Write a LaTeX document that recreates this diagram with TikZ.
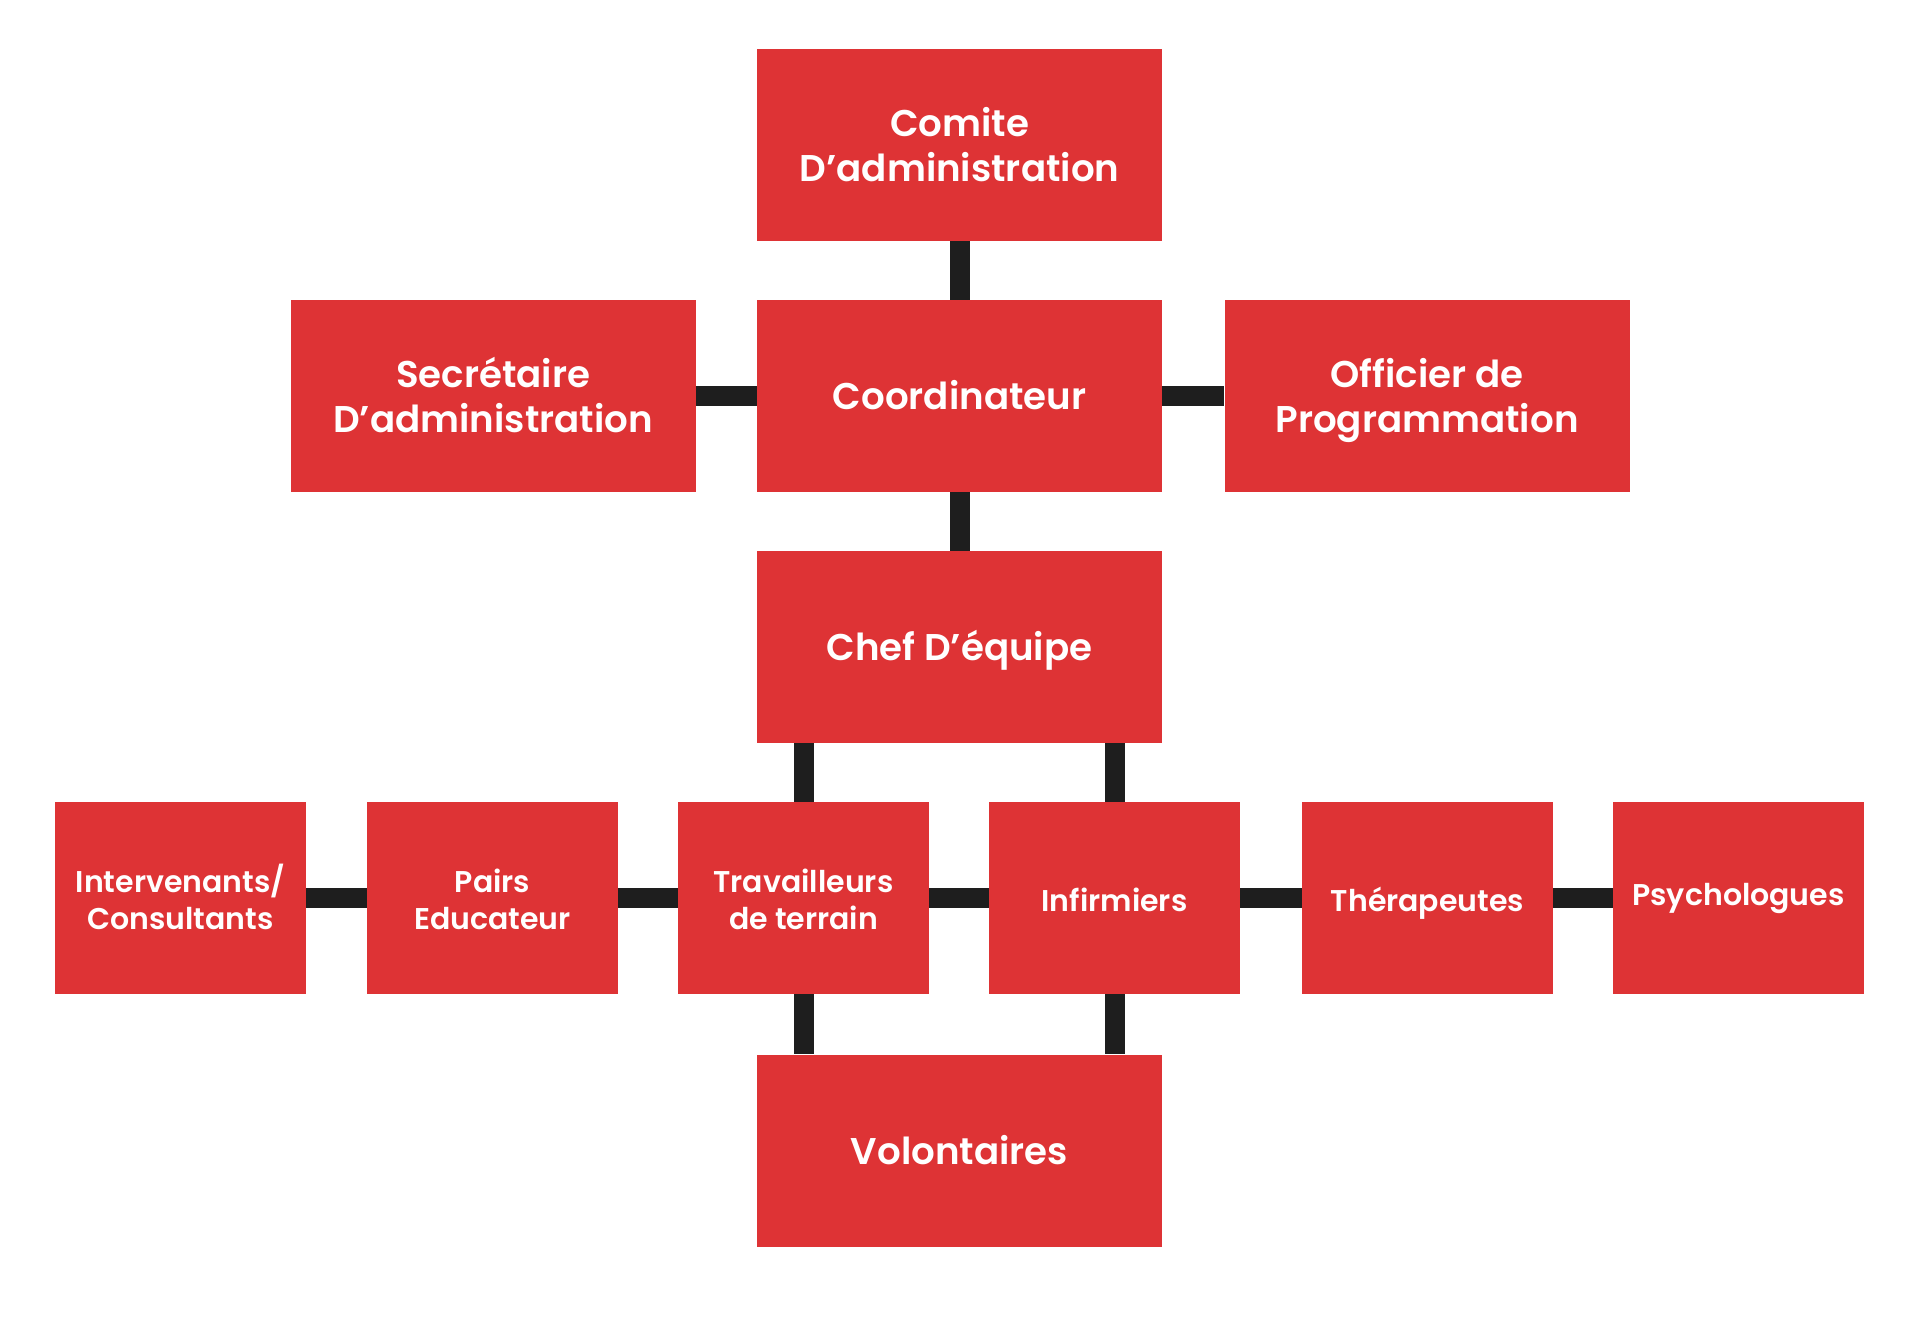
\documentclass[tikz,border=0pt]{standalone}
\usepackage{fontspec}
\setmainfont{Poppins}
\newfontfamily\topfont{Poppins SemiBold}
\newfontfamily\rowfont{Poppins SemiBold}
\newcommand\topline[1]{\rule[-0.13em]{0pt}{1.0em}\smash{#1}}
\newcommand\rowline[1]{\rule[-0.08em]{0pt}{1.05em}\smash{#1}}
\definecolor{boxred}{RGB}{222,51,53}
\definecolor{connblack}{RGB}{30,30,30}
\begin{document}
\begin{tikzpicture}[x=0.5pt,y=-0.5pt,
  bigbox/.style={fill=boxred, draw=none, inner sep=0pt, minimum width=202.5pt, minimum height=96pt,
    text=white, align=center, font=\topfont\fontsize{18.6}{22.5}\selectfont},
  rowbox/.style={fill=boxred, draw=none, inner sep=0pt, minimum width=125.5pt, minimum height=96pt,
    text=white, align=center, font=\rowfont\fontsize{15}{18.5}\selectfont},
  conn/.style={draw=connblack, line width=10pt}]
\useasboundingbox (0,0) rectangle (1920,1328);
\fill[white] (0,0) rectangle (1920,1328);
\node[bigbox] (comite) at (959.5,145) {\topline{Comite}\\\topline{D’administration}};
\node[bigbox] (coord) at (959.5,396) {\topline{Coordinateur}};
\node[bigbox] (sec) at (493,396) {\topline{Secrétaire}\\\topline{D’administration}};
\node[bigbox] (off) at (1427,396) {\topline{Officier de}\\\topline{Programmation}};
\node[bigbox] (chef) at (959.5,647) {\topline{Chef D’équipe}};
\node[rowbox] (inter) at (180.5,898) {\rowline{Intervenants/}\\\rowline{Consultants}};
\node[rowbox] (pairs) at (492.5,898) {\rowline{Pairs}\\\rowline{Educateur}};
\node[rowbox] (trav) at (803.5,898) {\rowline{Travailleurs}\\\rowline{de terrain}};
\node[rowbox] (inf) at (1114.5,898) {\rowline{Infirmiers}};
\node[rowbox] (ther) at (1427.5,898) {\rowline{Thérapeutes}};
\node[rowbox] (psy) at (1738.5,898) {\raisebox{7.3pt}{\rowline{Psychologues}}};
\node[bigbox] (vol) at (959.5,1150.5) {\topline{Volontaires}};
\draw[conn] (comite.south) -- (coord.north);
\draw[conn] (sec.east) -- (coord.west);
\draw[conn] (coord.east) -- (off.west);
\draw[conn] (coord.south) -- (chef.north);
\draw[conn] (trav.north |- chef.south) -- (trav.north);
\draw[conn] (inf.north |- chef.south) -- (inf.north);
\draw[conn] (inter.east) -- (pairs.west);
\draw[conn] (pairs.east) -- (trav.west);
\draw[conn] (trav.east) -- (inf.west);
\draw[conn] (inf.east) -- (ther.west);
\draw[conn] (ther.east) -- (psy.west);
\draw[conn] (trav.south) -- (trav.south |- vol.north);
\draw[conn] (inf.south) -- (inf.south |- vol.north);
\end{tikzpicture}
\end{document}
